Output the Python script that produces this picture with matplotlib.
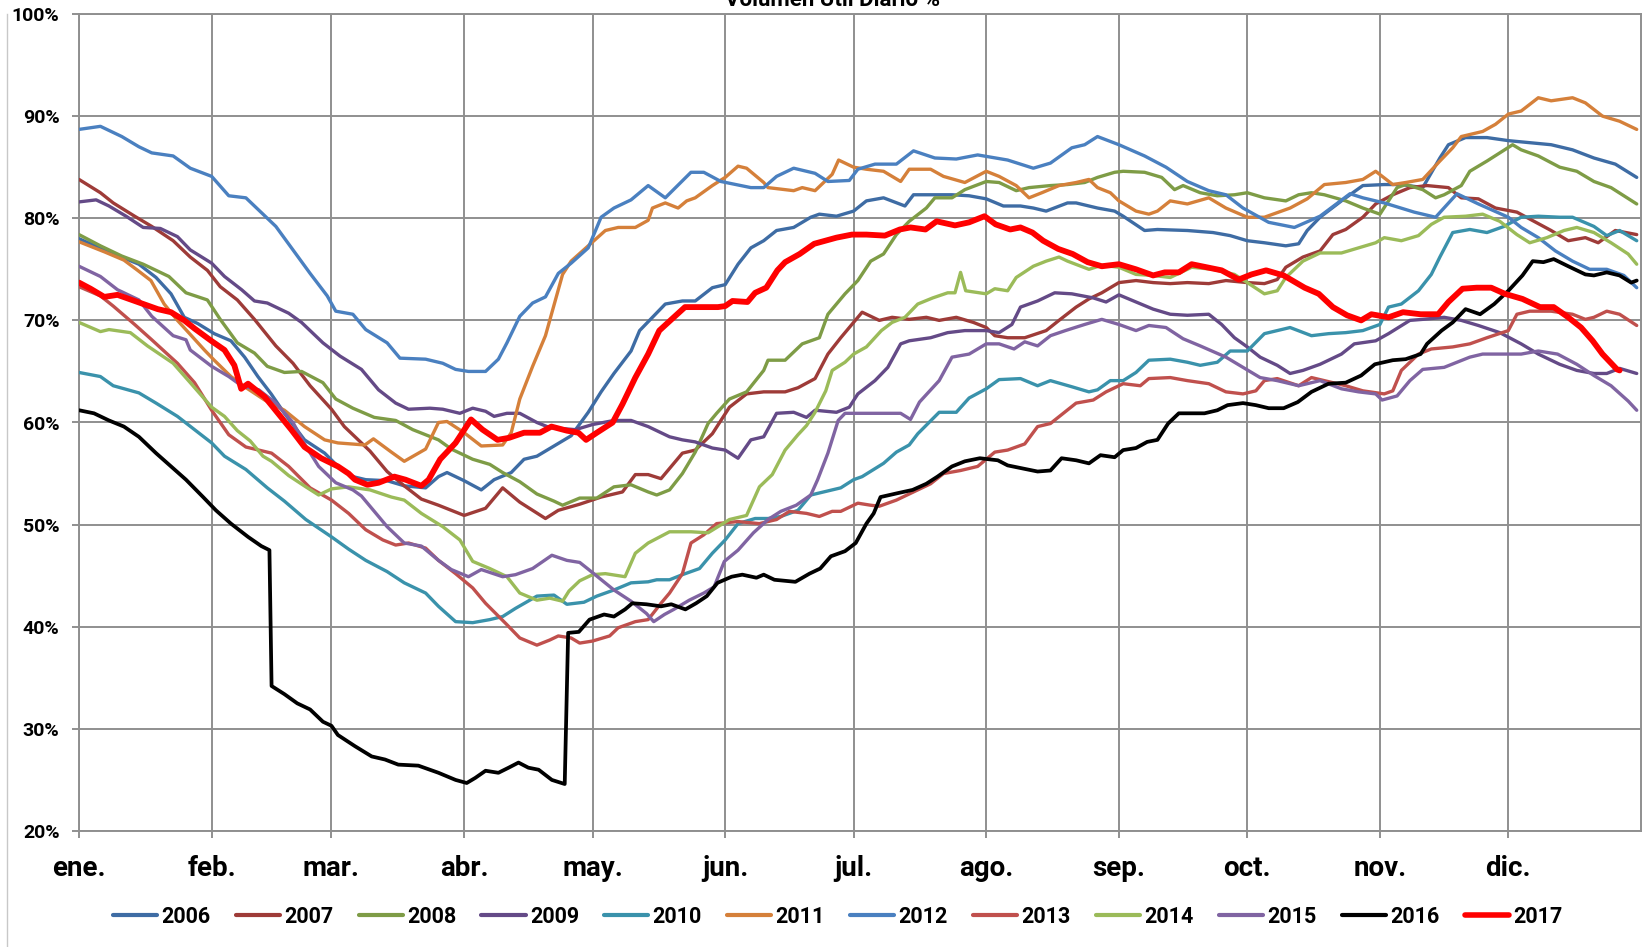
import matplotlib
matplotlib.use("Agg")
import matplotlib.pyplot as plt
from matplotlib.lines import Line2D

# --------------------------------------------------------------
# Data: (day of year, % useful volume)
# --------------------------------------------------------------
month_labels = ["ene.", "feb.", "mar.", "abr.", "may.", "jun.",
                "jul.", "ago.", "sep.", "oct.", "nov.", "dic."]
month_days = [0, 31, 59, 90, 120, 151, 181, 212, 243, 273, 304, 334]
years = ["2006", "2007", "2008", "2009", "2010", "2011",
         "2012", "2013", "2014", "2015", "2016", "2017"]

s2006 = [(0, 78.0), (7, 76.7), (14, 75.5), (18, 74.2), (21.5, 72.6), (24.6, 70.3), (27.7, 69.7),
         (31.6, 68.7), (35.5, 68.0), (38.7, 66.4), (41.8, 64.5), (44.9, 62.8), (48, 60.9), (52.7, 58.3),
         (57.4, 57.0), (60.5, 55.7), (64, 54.7), (67, 54.4), (72, 54.3),
         (76, 53.8), (81, 53.6), (84, 54.7), (86, 55.1), (90, 54.3), (94, 53.4), (97, 54.4), (101, 55.1),
         (104, 56.4), (107, 56.7), (111, 57.7), (115, 58.7), (119, 61.0), (122, 63.0), (125, 64.8),
         (129, 67.0), (131, 69.0), (134, 70.3), (137, 71.6), (141, 71.9), (144, 71.9), (148, 73.2),
         (151, 73.5), (154, 75.5), (157, 77.1), (160, 77.8), (163, 78.8), (167, 79.1), (171, 80.1),
         (173, 80.4), (177, 80.2), (181, 80.7), (184, 81.7), (188, 82.0), (193, 81.2), (195, 82.3),
         (200, 82.3), (204, 82.3), (208, 82.2), (212, 81.9), (216, 81.2), (220, 81.2), (223, 81.0),
         (226, 80.7), (231, 81.5), (233, 81.5), (238, 81.0), (242, 80.7), (244, 80.2), (249, 78.8),
         (252, 78.9), (259, 78.8), (265, 78.6), (269, 78.3), (273, 77.8), (277, 77.6), (282, 77.3),
         (285, 77.5), (287, 78.8), (290, 80.1), (295, 81.7), (300, 83.2), (305, 83.3), (309, 83.3),
         (314, 83.0), (318, 85.9), (320, 87.2), (324, 87.9), (329, 87.9), (334, 87.6), (339, 87.4),
         (344, 87.2), (349, 86.7), (354, 85.9), (359, 85.3), (364, 84.0)]

s2007 = [(0, 83.8), (5, 82.5), (8, 81.5), (13, 80.2), (17, 79.2), (22, 77.8), (26, 76.2), (30, 74.9),
         (33, 73.3), (37, 72.0), (41, 70.1), (46, 67.5), (50, 65.8), (54, 63.6), (59, 61.3), (62, 59.6),
         (68, 57.2), (72, 55.2), (76, 53.8), (80, 52.5), (84, 51.9), (90, 50.9), (95, 51.6), (99, 53.6),
         (103, 52.2), (109, 50.6), (112, 51.4), (117, 52.0), (122, 52.7), (127, 53.2), (130, 54.9),
         (133, 54.9), (136, 54.5), (138, 55.5), (141, 57.0), (144, 57.3), (148, 58.9), (152, 61.5),
         (156, 62.8), (160, 63.0), (165, 63.0), (168, 63.4), (172, 64.3), (175, 66.7), (178, 68.3),
         (181, 69.8), (183, 70.8), (187, 70.0), (190, 70.3), (194, 70.1), (198, 70.3), (201, 70.0),
         (205, 70.3), (209, 69.8), (212, 69.3), (214, 68.5), (217, 68.3), (221, 68.3), (226, 69.0),
         (229, 70.0), (233, 71.3), (236, 72.1), (239, 72.7), (243, 73.7), (247, 73.9), (251, 73.7),
         (255, 73.6), (259, 73.7), (264, 73.6), (268, 73.9), (273, 73.7), (277, 73.6), (280, 74.0),
         (282, 75.2), (286, 76.2), (290, 76.8), (293, 78.4), (296, 78.9), (300, 80.1), (303, 81.4),
         (307, 82.3), (311, 83.0), (315, 83.2), (320, 83.0), (323, 82.0), (327, 81.9), (331, 81.0),
         (336, 80.6), (340, 79.7), (344, 78.8), (348, 77.8), (352, 78.1), (355, 77.6), (359, 78.8),
         (364, 78.4)]

s2008 = [(0, 78.4), (5, 77.3), (10, 76.3), (15, 75.5), (21, 74.3), (25, 72.7), (30, 72.0), (33, 70.1),
         (37, 67.8), (41, 66.8), (44, 65.5), (48, 64.9), (52, 65.0), (57, 63.9), (60, 62.3), (64, 61.4),
         (69, 60.5), (74, 60.2), (78, 59.3), (84, 58.3), (87, 57.4), (92, 56.4), (96, 55.9), (99, 55.1),
         (103, 54.2), (107, 53.0), (111, 52.3), (113, 51.9), (117, 52.6), (121, 52.6), (125, 53.7),
         (129, 53.9), (133, 53.2), (135, 52.9), (138, 53.4), (141, 55.0), (144, 57.1), (147, 59.9),
         (149, 60.9), (152, 62.3), (156, 63.0), (160, 65.1), (161, 66.1), (165, 66.1), (169, 67.7),
         (173, 68.3), (175, 70.6), (179, 72.6), (182, 73.9), (185, 75.8), (188, 76.5), (191, 78.4),
         (194, 79.7), (198, 81.0), (200, 82.0), (204, 82.0), (207, 82.8), (212, 83.6), (215, 83.5),
         (219, 82.7), (222, 83.0), (227, 83.2), (231, 83.3), (235, 83.5), (238, 84.0), (242, 84.5),
         (244, 84.6), (249, 84.5), (253, 84.0), (256, 82.8), (258, 83.2), (262, 82.5), (266, 82.2),
         (270, 82.3), (273, 82.5), (277, 82.0), (282, 81.7), (285, 82.3), (288, 82.5), (291, 82.3),
         (296, 81.7), (300, 81.0), (304, 80.4), (306, 81.7), (308, 83.0), (310, 83.3), (314, 82.8),
         (317, 82.0), (319, 82.3), (323, 83.2), (325, 84.6), (329, 85.6), (335, 87.2), (337, 86.7),
         (341, 86.1), (346, 85.0), (350, 84.6), (354, 83.6), (358, 83.0), (364, 81.4)]

s2009 = [(0, 81.6), (4, 81.8), (7, 81.2), (11, 80.2), (15, 79.1), (19, 79.0), (23, 78.2), (26, 76.9),
         (31, 75.6), (34, 74.3), (38, 73.0), (41, 71.9), (44, 71.7), (49, 70.7), (52, 69.8), (57, 67.8),
         (61, 66.5), (66, 65.2), (70, 63.2), (74, 61.9), (77, 61.3), (82, 61.4), (85, 61.3), (89, 60.9),
         (92, 61.4), (95, 61.1), (97, 60.6), (100, 60.9), (103, 60.9), (107, 60.0), (110, 59.5),
         (116, 59.3), (120, 59.8), (125, 60.2), (129, 60.2), (133, 59.6), (138, 58.6), (141, 58.3),
         (144, 58.1), (148, 57.5), (151, 57.3), (154, 56.5), (157, 58.3), (160, 58.6), (163, 60.9),
         (167, 61.0), (170, 60.5), (172, 61.2), (177, 61.0), (180, 61.5), (182, 62.8), (186, 64.1),
         (189, 65.4), (192, 67.7), (194, 68.0), (199, 68.3), (203, 68.8), (207, 69.0), (212, 69.0),
         (215, 68.8), (218, 69.6), (220, 71.3), (224, 71.9), (228, 72.7), (232, 72.6), (237, 72.2),
         (240, 71.8), (243, 72.5), (247, 71.8), (251, 71.1), (255, 70.6), (259, 70.5), (264, 70.6),
         (267, 69.6), (270, 68.3), (273, 67.4), (276, 66.4), (280, 65.6), (283, 64.8), (286, 65.1),
         (290, 65.7), (295, 66.7), (298, 67.7), (303, 68.0), (306, 68.7), (311, 70.0), (314, 70.1),
         (319, 70.3), (323, 70.0), (327, 69.5), (332, 68.8), (337, 67.7), (341, 66.7), (346, 65.7),
         (350, 65.1), (354, 64.8), (357, 64.8), (360, 65.3), (364, 64.8)]

s2010 = [(0, 64.9), (5, 64.5), (8, 63.6), (14, 62.9), (18, 61.9), (23, 60.6), (27, 59.3), (31, 58.0),
         (34, 56.7), (39, 55.4), (44, 53.6), (48, 52.3), (53, 50.5), (59, 48.8), (63, 47.6), (67, 46.5),
         (72, 45.4), (76, 44.3), (81, 43.3), (84, 42.0), (88, 40.5), (92, 40.4), (96, 40.7), (99, 41.0),
         (102, 41.8), (107, 43.0), (111, 43.1), (114, 42.2), (118, 42.4), (121, 43.0), (125, 43.6),
         (129, 44.3), (133, 44.4), (135, 44.6), (138, 44.6), (141, 45.1), (145, 45.7), (148, 47.2),
         (151, 48.5), (154, 50.1), (158, 50.6), (161, 50.6), (164, 50.8), (168, 51.4), (171, 52.9),
         (174, 53.2), (178, 53.6), (181, 54.4), (183, 54.7), (188, 56.0), (191, 57.1), (194, 57.8),
         (196, 58.9), (201, 61.0), (205, 61.0), (208, 62.4), (212, 63.3), (215, 64.2), (220, 64.3),
         (224, 63.6), (227, 64.1), (232, 63.5), (236, 63.0), (238, 63.2), (241, 64.1), (244, 64.1),
         (247, 64.9), (250, 66.1), (255, 66.2), (259, 65.9), (262, 65.6), (266, 65.9), (269, 67.0),
         (273, 67.0), (277, 68.7), (283, 69.3), (288, 68.5), (292, 68.7), (296, 68.8), (300, 69.0),
         (304, 69.6), (306, 71.3), (309, 71.6), (313, 72.9), (316, 74.5), (318, 76.2), (321, 78.6),
         (325, 78.9), (329, 78.6), (333, 79.2), (337, 80.1), (341, 80.2), (346, 80.1), (349, 80.1),
         (354, 79.2), (357, 78.3), (360, 78.8), (364, 77.8)]

s2011 = [(0, 77.7), (6, 76.7), (10.5, 75.9), (13.7, 74.9), (16.8, 73.9), (19.9, 71.6), (23, 70.0),
         (25.4, 68.9), (29.3, 67.1), (31.6, 66.1), (35.5, 64.5), (38.7, 63.5), (43.4, 62.2), (48, 61.2),
         (52.7, 59.6), (57.4, 58.3), (60.5, 58.0), (66.8, 57.8), (68.8, 58.4),
         (73, 57.1), (76, 56.2), (81, 57.4), (84, 60.0), (86, 60.1), (90, 59.0), (94, 57.7), (99, 57.8),
         (101, 59.0), (103, 62.3), (106, 65.5), (109, 68.5), (111, 71.5), (113, 74.5), (115, 75.8),
         (119, 77.3), (123, 78.8), (126, 79.1), (130, 79.1), (133, 79.8), (134, 81.0), (137, 81.5),
         (140, 81.0), (142, 81.7), (144, 82.0), (148, 83.2), (151, 84.0), (154, 85.1), (156, 84.9),
         (160, 83.5), (161, 83.0), (167, 82.7), (169, 83.0), (172, 82.7), (176, 84.3), (177.5, 85.7),
         (181, 85.0), (184, 84.8), (188, 84.6), (192, 83.6), (194, 84.8), (199, 84.8), (202, 84.1),
         (207, 83.5), (212, 84.6), (215, 84.1), (219, 83.2), (222, 82.0), (225, 82.5), (229, 83.2),
         (233, 83.5), (236, 83.8), (238, 83.0), (241, 82.5), (243, 81.7), (247, 80.7), (250, 80.4),
         (252, 80.7), (255, 81.7), (259, 81.4), (264, 82.0), (268, 81.0), (273, 80.1), (277, 80.1),
         (283, 81.0), (287, 81.9), (291, 83.3), (296, 83.5), (300, 83.8), (303, 84.6), (307, 83.3),
         (310, 83.5), (314, 83.8), (318, 85.6), (321, 86.9), (323, 88.0), (328, 88.5), (331, 89.2),
         (334, 90.2), (337, 90.5), (341, 91.8), (344, 91.5), (349, 91.8), (352, 91.3), (356, 90.0),
         (360, 89.5), (364, 88.7)]

s2012 = [(0, 88.7), (5, 89.0), (10, 88.0), (14, 87.0), (17, 86.4), (22, 86.1), (26, 84.9), (31, 84.1),
         (35, 82.2), (39, 82.0), (42, 80.8), (46, 79.2), (50, 76.9), (54, 74.6), (58, 72.4), (60, 70.9),
         (64, 70.6), (67, 69.1), (72, 67.8), (75, 66.3), (81, 66.2), (85, 65.8), (88, 65.2), (91, 65.0),
         (95, 65.0), (98, 66.2), (100, 67.8), (103, 70.4), (106, 71.7), (109, 72.3), (112, 74.6),
         (115, 75.6), (119, 77.1), (122, 80.1), (125, 81.0), (129, 81.8), (133, 83.2), (137, 82.0),
         (143, 84.5), (146, 84.5), (150, 83.6), (157, 83.0), (160, 83.0), (163, 84.1), (167, 84.9),
         (172, 84.4), (175, 83.6), (180, 83.7), (182, 84.8), (186, 85.3), (191, 85.3), (195, 86.6),
         (200, 85.9), (205, 85.8), (210, 86.2), (217, 85.7), (223, 84.9), (227, 85.4), (232, 86.9),
         (235, 87.2), (238, 88.0), (243, 87.2), (249, 86.1), (254, 85.0), (259, 83.6), (264, 82.7),
         (268, 82.3), (272, 81.0), (278, 79.6), (284, 79.1), (290, 80.2), (297, 82.4), (300, 82.0),
         (305, 81.5), (312, 80.6), (317, 80.1), (322, 82.4), (327, 81.4), (334, 80.1), (337, 79.1),
         (341, 78.1), (345, 76.8), (349, 75.8), (353, 75.0), (357, 75.0), (361, 74.4), (364, 73.2)]

s2013 = [(0, 73.3), (5, 72.4), (8, 71.4), (13, 69.6), (17, 68.1), (23, 65.8), (27, 63.9), (31, 61.2),
         (35, 58.8), (39, 57.6), (45, 57.0), (49, 55.7), (54, 53.6), (59, 52.4), (63, 51.1), (67, 49.5),
         (71, 48.5), (74, 48.0), (77, 48.2), (81, 47.7), (84, 46.5), (88, 45.2), (92, 43.8), (95, 42.3),
         (100, 40.2), (103, 38.9), (107, 38.2), (110, 38.7), (112, 39.1), (115, 38.9), (117, 38.4),
         (120, 38.6), (124, 39.1), (126, 39.9), (130, 40.5), (133, 40.7), (136, 42.3), (138, 43.3),
         (141, 45.2), (143, 48.2), (146, 49.0), (149, 50.1), (154, 50.3), (159, 50.1), (163, 50.5),
         (166, 51.3), (170, 51.1), (173, 50.8), (176, 51.3), (178, 51.3), (182, 52.1), (185, 51.9),
         (187, 51.8), (191, 52.4), (195, 53.2), (199, 54.0), (202, 55.0), (206, 55.3), (210, 55.7),
         (214, 57.1), (217, 57.3), (221, 57.9), (224, 59.6), (227, 59.9), (230, 60.9), (233, 61.9),
         (237, 62.2), (240, 63.0), (244, 63.8), (248, 63.6), (250, 64.3), (255, 64.4), (259, 64.1),
         (264, 63.8), (268, 63.0), (272, 62.8), (275, 63.1), (277, 64.1), (280, 64.3), (285, 63.6),
         (288, 64.4), (291, 64.1), (296, 63.6), (300, 63.1), (305, 62.8), (307, 63.1), (309, 65.1),
         (313, 66.7), (316, 67.2), (321, 67.4), (325, 67.7), (329, 68.3), (334, 69.0), (336, 70.6),
         (339, 70.9), (344, 70.9), (349, 70.6), (352, 70.1), (354, 70.3), (357, 70.9), (360, 70.6),
         (364, 69.5)]

s2014 = [(0, 69.8), (5, 68.9), (7, 69.1), (12, 68.8), (16, 67.5), (22, 65.8), (26, 63.9), (31, 61.5),
         (34, 60.6), (37, 59.2), (40, 58.2), (43, 56.7), (45, 56.2), (49, 54.8), (53, 53.7), (56, 52.9),
         (59, 53.5), (63, 53.7), (68, 53.4), (73, 52.7), (76, 52.4), (80, 51.1), (85, 49.8), (89, 48.5),
         (92, 46.4), (96, 45.7), (100, 44.9), (103, 43.3), (107, 42.6), (110, 42.8), (113, 42.5),
         (114.5, 43.5), (117, 44.5), (120, 45.1), (123, 45.2), (127.6, 44.9), (130, 47.2), (133, 48.2),
         (138, 49.3), (143, 49.3), (147, 49.2), (152, 50.5), (156, 50.9), (159, 53.7), (162, 54.9),
         (165, 57.3), (168, 58.8), (170, 59.7), (172, 61.0), (174.5, 63.1), (176, 65.1), (179, 65.9),
         (181, 66.7), (184, 67.4), (187.5, 69.0), (190, 69.8), (193, 70.3), (196, 71.6), (199.5, 72.2),
         (203, 72.7), (204.7, 72.7), (206, 74.7), (207.2, 72.9), (212, 72.6), (214, 73.1), (217, 72.9),
         (219, 74.2), (223, 75.3), (226, 75.8), (229, 76.2), (231, 75.8), (236, 75.0), (239, 75.4),
         (243, 75.2), (247, 74.5), (251, 74.4), (255, 74.2), (260, 75.2), (265, 75.0), (270, 74.5),
         (273, 73.7), (277, 72.6), (280, 72.9), (282, 74.2), (286, 75.8), (290, 76.6), (295, 76.6),
         (299, 77.1), (303, 77.6), (305, 78.1), (309, 77.8), (313, 78.3), (316, 79.4), (319, 80.1),
         (324, 80.2), (328, 80.4), (332, 79.7), (336, 78.4), (339, 77.6), (343, 78.1), (347, 78.8),
         (350, 79.1), (354, 78.6), (358, 77.6), (362, 76.5), (364, 75.5)]

s2015 = [(0, 75.3), (5, 74.3), (9, 73.0), (14, 72.0), (17, 70.4), (22, 68.5), (25, 68.1), (26, 67.1),
         (31, 65.5), (35, 64.5), (38, 63.6), (42, 63.2), (46, 61.9), (50, 60.0), (53, 57.7), (56, 55.7),
         (60, 54.1), (64, 53.4), (66, 52.8), (68, 51.8), (72, 49.8), (76, 48.2), (80, 47.9), (84, 46.5),
         (87, 45.6), (91, 44.9), (94, 45.6), (99, 44.9), (102, 45.1), (106, 45.7), (110.5, 47.0),
         (114, 46.5), (117, 46.3), (120, 45.3), (125, 43.6), (129, 42.5), (132.6, 41.3), (134.3, 40.5),
         (136.8, 41.2), (139, 41.7), (142.6, 42.6), (146, 43.3), (148.4, 43.9), (150.8, 46.4),
         (154, 47.5), (157.6, 49.2), (161, 50.5), (164, 51.3), (167.6, 51.9), (171, 52.9), (172.6, 54.4),
         (175, 57.0), (177.4, 60.2), (179, 60.9), (184, 60.9), (189, 60.9), (192, 60.9), (194.3, 60.3),
         (196.4, 62.0), (201, 64.1), (204, 66.4), (208, 66.7), (212, 67.7), (215, 67.7), (218.5, 67.2),
         (221, 67.9), (224, 67.5), (227, 68.5), (230.5, 69.0), (235, 69.6), (239, 70.1), (243, 69.6),
         (247, 69.0), (250, 69.5), (254, 69.3), (258, 68.2), (262, 67.5), (268, 66.4), (272, 65.4),
         (276, 64.4), (280, 64.1), (285, 63.6), (290, 64.1), (295, 63.3), (299, 63.0), (303, 62.8),
         (304.5, 62.2), (308, 62.6), (311, 64.1), (314, 65.2), (319, 65.4), (325, 66.4), (328, 66.7),
         (333, 66.7), (337, 66.7), (341, 67.0), (345.5, 66.7), (350, 65.7), (354, 64.6), (358, 63.6),
         (362, 62.1), (364, 61.2)]

s2016 = [(0, 61.2), (3.5, 60.9), (7, 60.2), (10.5, 59.6), (14, 58.6), (18, 57.0), (21.5, 55.7), (25, 54.4),
         (29, 52.7), (32, 51.4), (35.5, 50.1), (39.5, 48.8), (42.6, 47.9), (44.5, 47.5), (45, 34.2),
         (48, 33.4), (51, 32.5), (54, 31.9), (57, 30.7), (59, 30.3), (60.5, 29.4), (64.5, 28.3),
         (68.4, 27.3), (71.5, 27.0), (74.6, 26.5), (79.3, 26.4), (84, 25.7), (88, 25.0), (90.6, 24.7),
         (92.6, 25.2), (95, 25.9), (98, 25.7), (100.4, 26.2), (102.7, 26.7), (105, 26.2), (107.4, 26.0),
         (110.5, 25.0), (113.5, 24.6), (114.3, 39.4), (116.8, 39.5), (119.3, 40.7), (122.7, 41.2),
         (125, 41.0), (127.6, 41.7), (129.3, 42.3), (132.6, 42.2), (136, 42.0), (138.4, 42.2),
         (141.7, 41.7), (144.2, 42.3), (146.7, 43.0), (149.2, 44.3), (152.5, 44.9), (155, 45.1),
         (158.3, 44.8), (160, 45.1), (162.5, 44.6), (167.4, 44.4), (170.7, 45.2), (173.2, 45.7),
         (175.7, 46.9), (179, 47.4), (181.5, 48.2), (184, 50.1), (185.7, 51.1), (187.3, 52.7),
         (191.5, 53.1), (194.8, 53.4), (198, 54.0), (200.6, 54.7), (204, 55.7), (207, 56.2),
         (210.5, 56.5), (214.7, 56.3), (217, 55.8), (220.5, 55.5), (224, 55.2), (227, 55.3),
         (229.6, 56.5), (233, 56.3), (236, 56.0), (238.7, 56.8), (242, 56.6), (244, 57.3), (247, 57.5),
         (249.6, 58.1), (252, 58.3), (254.5, 59.9), (257, 60.9), (263, 60.9), (266, 61.2), (268.4, 61.7),
         (272, 61.9), (275, 61.7), (278, 61.4), (281.5, 61.4), (284.8, 62.0), (288, 63.0), (292, 63.8),
         (296, 63.9), (299.6, 64.6), (302.8, 65.7), (307, 66.1), (310, 66.2), (313.5, 66.7), (315, 67.7),
         (318.4, 69.0), (321, 69.8), (324, 71.1), (327.4, 70.6), (330.7, 71.6), (334, 72.9), (337.3, 74.4),
         (339.7, 75.8), (342.2, 75.7), (344.6, 76.0), (348, 75.3), (352, 74.5), (354, 74.4), (357, 74.7),
         (360, 74.4), (362.7, 73.7), (364, 73.9)]

s2017 = [(0, 73.7), (2.7, 73.1), (5.9, 72.3), (9, 72.5), (13.7, 71.8), (18.4, 71.1), (21.5, 70.8),
         (24.6, 70.0), (27, 69.2), (30.9, 68.0), (34, 67.1), (36.3, 65.6), (37.9, 63.3), (39.5, 63.8),
         (43.4, 62.5), (46.5, 60.9), (49.6, 59.3), (52.7, 57.6), (56.6, 56.5), (60.5, 55.7), (63, 55.0),
         (64.5, 54.4), (67.4, 53.9),
         (70, 54.1), (73.7, 54.7), (76.3, 54.4), (80, 53.8), (81.7, 54.4), (84.4, 56.4), (88, 58.0),
         (91.6, 60.3), (94.3, 59.3), (97.8, 58.3), (100.5, 58.5), (104, 59.0), (107.7, 59.0),
         (110.4, 59.6), (114, 59.2), (116.7, 59.0), (118.5, 58.3), (121, 59.0), (124.7, 60.0),
         (127, 61.8), (130, 64.4), (133, 66.7), (135.6, 69.0), (138.2, 70.0), (141.6, 71.3), (145, 71.3),
         (149.3, 71.3), (151, 71.4), (152.7, 71.9), (156.2, 71.8), (158, 72.7), (160.6, 73.2),
         (163.2, 74.9), (165, 75.7), (168.4, 76.5), (171.8, 77.5), (177, 78.1), (180.6, 78.4), (184, 78.4),
         (188.3, 78.3), (191.8, 78.9), (194.3, 79.1), (197.8, 78.9), (200.4, 79.7), (204.7, 79.3),
         (208, 79.6), (211.6, 80.2), (214.2, 79.4), (217.6, 78.9), (220, 79.1), (222.8, 78.6),
         (225.3, 77.8), (228.8, 77.0), (232.2, 76.5), (235.7, 75.7), (239, 75.3), (243, 75.5), (247, 75.0),
         (251, 74.4), (253.7, 74.7), (257, 74.7), (260, 75.5), (263.5, 75.2), (267, 74.9), (271, 74.0),
         (274, 74.5), (277.4, 74.9), (281.5, 74.4), (286.4, 73.2), (289.7, 72.6), (293, 71.3),
         (296.3, 70.5), (299.6, 70.0), (302, 70.6), (306, 70.3), (309.4, 70.8), (313.5, 70.6),
         (317.6, 70.6), (320, 71.8), (323.3, 73.1), (326.6, 73.2), (330, 73.2), (333.2, 72.6),
         (337.3, 72.1), (341.4, 71.3), (344.6, 71.3), (348, 70.3), (351, 69.3), (353.7, 68.0),
         (356, 66.7), (359.4, 65.2), (360, 65.1)]

series = [s2006, s2007, s2008, s2009, s2010, s2011, s2012, s2013, s2014, s2015, s2016, s2017]
colors = ["#3E6CA4", "#9E3B38", "#7E9C46", "#644A87", "#3A92AB", "#D5803A",
          "#4A80C0", "#C0504D", "#9BBB59", "#8064A2", "#000000", "#FF0000"]
widths = [2.4] * 10 + [2.7, 4.2]

# --------------------------------------------------------------
# Plot
# --------------------------------------------------------------
plt.rcParams["font.family"] = ["Roboto", "DejaVu Sans"]
grid_col = "#8f8f8f"

fig = plt.figure(figsize=(16.49, 9.47), dpi=100)
ax = fig.add_axes([79 / 1649, 1 - 831 / 947, (1641 - 79) / 1649, (831 - 14) / 947])

for i, (s, year) in enumerate(zip(series, years)):
    d, v = zip(*s)
    ax.plot(d, v, color=colors[i], lw=widths[i], label=year, zorder=3 + i,
            solid_joinstyle="round", solid_capstyle="round")

ax.set_xlim(0, 365)
ax.set_ylim(20, 100)
ax.set_xticks(month_days)
ax.set_xticklabels(month_labels, fontsize=20, fontweight="bold")
ax.set_yticks(range(20, 101, 10))
ax.set_yticklabels([f"{t}%" for t in range(20, 101, 10)], fontsize=14, fontweight="bold")
ax.tick_params(axis="x", length=5, width=1.4, color=grid_col, pad=12)
ax.tick_params(axis="y", length=5, width=1.4, color=grid_col, pad=9)
ax.grid(True, color=grid_col, lw=1.4, zorder=0)
ax.set_axisbelow(True)
for sp in ax.spines.values():
    sp.set_color(grid_col)
    sp.set_linewidth(1.4)

fig.text(0.505, 1.0, "Volumen Útil Diario %", ha="center", va="center",
         fontsize=16, fontweight="bold")

# left border of the chart area
fig.add_artist(Line2D([7 / 1649, 7 / 1649], [0, 0.985], transform=fig.transFigure,
                      color="#c8c8c8", lw=1.0))

leg = ax.legend(loc="center", bbox_to_anchor=(0.508, 0.032), bbox_transform=fig.transFigure,
                ncol=12, frameon=False, handlelength=2.05, handletextpad=0.2,
                columnspacing=1.17, prop={"weight": "bold", "size": 15.5})
for line in leg.get_lines():
    line.set_linewidth(3.0)
leg.get_lines()[-1].set_linewidth(4.0)

fig.savefig("out.png", dpi=100)
